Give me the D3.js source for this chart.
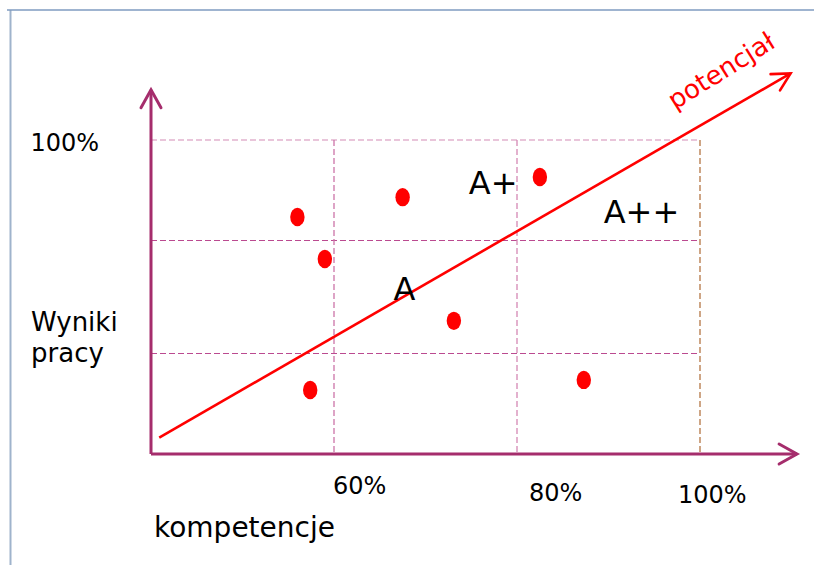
<!DOCTYPE html>
<html lang="pl">
<head>
  <meta charset="UTF-8">
  <title>Wyniki pracy a kompetencje</title>
  <script src="https://d3js.org/d3.v7.min.js"></script>
  <style>
    body { margin: 0; background: #fff; }
    text { font-family: Tahoma, "DejaVu Sans", sans-serif; fill: #000; }
    .quad { font-size: 32px; }
    .tick-label { font-size: 24px; }
  </style>
</head>
<body>
  <div id="chart"></div>

  <script>
    // dane (procenty)
    const xTicks = [60, 80, 100];
    const xTickLabels = ["60%", "80%", "100%"];
    const yGrid = [32, 68, 100];
    const yTickLabel = "100%";

    const pointsX = [56, 67.5, 59, 82.5, 73.1, 87.3, 57.4];
    const pointsY = [75.5, 81.8, 62.1, 88.2, 42.4, 23.6, 20.4];

    const trendX = [40.9, 109.9];
    const trendY = [5.2, 121.2];

    const quadLabels = ["A", "A+", "A++"];
    const quadX = [67.7, 77.4, 93.6];
    const quadY = [49.2, 82.8, 73.5];

    const xAxisEnd = 110.6;
    const yAxisEnd = 116;

    const width = 814, height = 565;

    const svg = d3.select("#chart")
      .append("svg")
      .attr("width", width)
      .attr("height", height);

    const x = d3.scaleLinear().domain([40, 100]).range([151, 700]);
    const y = d3.scaleLinear().domain([0, 100]).range([454, 140]);

    // ramka slajdu
    svg.append("line")
      .attr("x1", 10.5).attr("x2", 10.5).attr("y1", 10).attr("y2", height)
      .attr("stroke", "#9fb3cc").attr("stroke-width", 2);
    svg.append("line")
      .attr("x1", 7).attr("x2", width).attr("y1", 10).attr("y2", 10)
      .attr("stroke", "#7f9bc0").attr("stroke-width", 1.5);

    // siatka
    const hColors = ["#bb4a90", "#bb4a90", "#d48cb6"];
    svg.selectAll(".hgrid")
      .data(yGrid)
      .enter()
      .append("line")
      .attr("class", "hgrid")
      .attr("x1", x(40)).attr("x2", x(100))
      .attr("y1", d => y(d)).attr("y2", d => y(d))
      .attr("stroke", (d, i) => hColors[i])
      .attr("stroke-width", 1.2)
      .attr("stroke-dasharray", "6,3");

    const vColors = ["#cc74a8", "#d488b4", "#c99c78"];
    svg.selectAll(".vgrid")
      .data(xTicks)
      .enter()
      .append("line")
      .attr("class", "vgrid")
      .attr("x1", d => x(d)).attr("x2", d => x(d))
      .attr("y1", y(100)).attr("y2", y(0))
      .attr("stroke", (d, i) => vColors[i])
      .attr("stroke-width", (d, i) => i === 2 ? 1.8 : 1.3)
      .attr("stroke-dasharray", "6,3");

    // strzałka: linia + grot
    function arrow(x1, y1, x2, y2, color, w, len, ang) {
      svg.append("line")
        .attr("x1", x1).attr("y1", y1).attr("x2", x2).attr("y2", y2)
        .attr("stroke", color).attr("stroke-width", w);
      const a = Math.atan2(y1 - y2, x1 - x2);
      const p1 = [x2 + len * Math.cos(a + ang), y2 + len * Math.sin(a + ang)];
      const p2 = [x2 + len * Math.cos(a - ang), y2 + len * Math.sin(a - ang)];
      svg.append("path")
        .attr("d", `M${p1[0]},${p1[1]}L${x2},${y2}L${p2[0]},${p2[1]}`)
        .attr("fill", "none")
        .attr("stroke", color)
        .attr("stroke-width", w)
        .attr("stroke-linecap", "round")
        .attr("stroke-linejoin", "miter");
    }

    const axisColor = "#a52d6c";
    arrow(x(40), y(0), x(40), y(yAxisEnd), axisColor, 3, 20.5, 0.51);
    arrow(x(40), y(0), x(xAxisEnd), y(0), axisColor, 3, 20.5, 0.51);

    // linia potencjału
    arrow(x(trendX[0]), y(trendY[0]), x(trendX[1]), y(trendY[1]), "#ff0000", 2.6, 20, 0.49);

    svg.append("text")
      .attr("transform", "translate(675,110) rotate(-32)")
      .style("font-size", "26px")
      .style("fill", "#ff0000")
      .text("potencjał");

    // punkty
    const points = pointsX.map((v, i) => ({ x: v, y: pointsY[i] }));
    svg.selectAll(".dot")
      .data(points)
      .enter()
      .append("ellipse")
      .attr("class", "dot")
      .attr("cx", d => x(d.x))
      .attr("cy", d => y(d.y))
      .attr("rx", 7.2)
      .attr("ry", 9.2)
      .attr("fill", "#ff0000");

    // etykiety ćwiartek
    svg.selectAll(".quad")
      .data(quadLabels)
      .enter()
      .append("text")
      .attr("class", "quad")
      .attr("x", (d, i) => x(quadX[i]))
      .attr("y", (d, i) => y(quadY[i]))
      .attr("text-anchor", "middle")
      .text(d => d);

    // etykiety osi X
    const tickDx = [-1, 12, -22];
    const tickY = [494, 501, 503];
    svg.selectAll(".tick-label")
      .data(xTickLabels)
      .enter()
      .append("text")
      .attr("class", "tick-label")
      .attr("x", (d, i) => x(xTicks[i]) + tickDx[i])
      .attr("y", (d, i) => tickY[i])
      .text(d => d);

    svg.append("text")
      .attr("class", "tick-label")
      .attr("x", 99)
      .attr("y", y(100) + 11)
      .attr("text-anchor", "end")
      .text(yTickLabel);

    svg.append("text")
      .attr("x", 31).attr("y", 331)
      .style("font-size", "26px")
      .text("Wyniki");
    svg.append("text")
      .attr("x", 31).attr("y", 362)
      .style("font-size", "26px")
      .text("pracy");

    svg.append("text")
      .attr("x", 154).attr("y", 537)
      .style("font-size", "28px")
      .text("kompetencje");
  </script>
</body>
</html>
